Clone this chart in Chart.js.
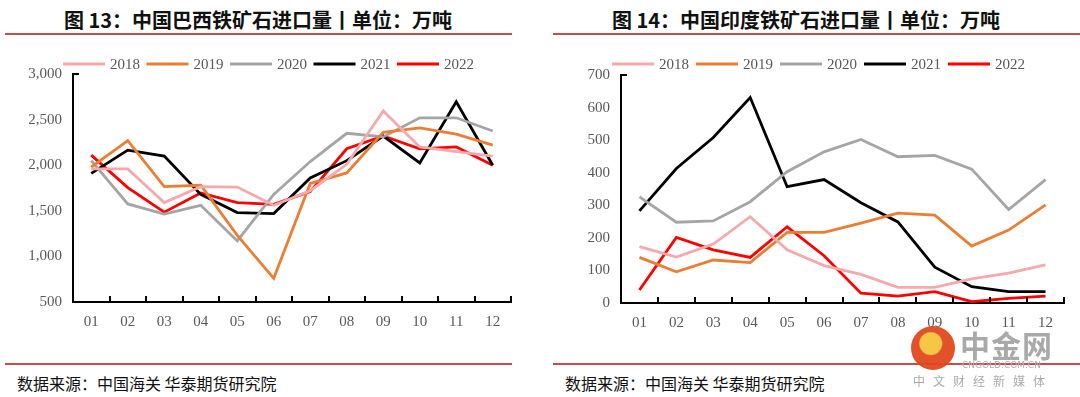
<!DOCTYPE html>
<html>
<head>
<meta charset="utf-8">
<script src="https://cdn.jsdelivr.net/npm/chart.js@4.4.1/dist/chart.umd.min.js"></script>
<style>
  html,body{margin:0;padding:0;background:#fff;}
  body{width:1080px;height:397px;position:relative;overflow:hidden;font-family:"Noto Sans CJK SC",sans-serif;}
  .title{position:absolute;top:5px;font-weight:bold;font-size:20px;color:#111;white-space:nowrap;transform:translateX(-50%);}
  .rule{position:absolute;height:2px;background:#c0504d;}
  .src{position:absolute;top:371px;font-size:16px;color:#111;white-space:nowrap;}
  .cv{position:absolute;top:0;width:540px;height:345px;}
  .logo{position:absolute;left:911px;top:326px;width:44px;height:44px;border-radius:50%;
        background:radial-gradient(circle at 45% 40%,#f5c33a 0 30%,#e0481f 34% 100%);opacity:.95;}
  .wm1{position:absolute;left:960px;top:322px;font-size:30px;font-weight:bold;color:#a9a9a9;letter-spacing:1px;}
  .wm2{position:absolute;left:962px;top:360px;font-size:9px;color:#b0b0b0;font-family:"DejaVu Sans",sans-serif;}
  .wm3{position:absolute;left:913px;top:372px;font-size:12px;color:#aaa;letter-spacing:8px;}
</style>
</head>
<body>
<div class="title" style="left:258px">图&nbsp;13：中国巴西铁矿石进口量丨单位：万吨</div>
<div class="title" style="left:806px">图&nbsp;14：中国印度铁矿石进口量丨单位：万吨</div>
<div class="rule" style="left:5px;width:507px;top:33px"></div>
<div class="rule" style="left:553px;width:527px;top:33px"></div>
<div class="rule" style="left:5px;width:507px;top:363px"></div>
<div class="rule" style="left:553px;width:527px;top:363px"></div>
<canvas id="c1" class="cv" style="left:0"></canvas>
<canvas id="c2" class="cv" style="left:540px"></canvas>
<div class="src" style="left:17px">数据来源：中国海关 华泰期货研究院</div>
<div class="src" style="left:565px">数据来源：中国海关 华泰期货研究院</div>
<div class="logo"></div>
<div class="wm1">中金网</div>
<div class="wm2">CNGOLD.COM.CN</div>
<div class="wm3">中文财经新媒体</div>
<script>
const months=['01','02','03','04','05','06','07','08','09','10','11','12'];
const years=['2018','2019','2020','2021','2022'];
const colors=['#f7a8ad','#ed7d31','#a5a5a5','#000000','#ff0000'];

// 图13 巴西
const br2018=[1960,1960,1590,1765,1760,1560,1720,2010,2595,2200,2150,2100];
const br2019=[1980,2270,1765,1780,1230,760,1800,1915,2360,2410,2340,2220];
const br2020=[2050,1575,1465,1560,1170,1680,2040,2350,2310,2520,2520,2375];
const br2021=[1910,2165,2100,1680,1480,1470,1860,2050,2320,2025,2695,2000];
const br2022=[2110,1755,1485,1695,1590,1570,1710,2180,2320,2180,2200,2000];

// 图14 印度
const in2018=[173,141,181,265,163,115,88,48,48,74,92,117];
const in2019=[140,96,132,124,217,217,245,276,270,175,224,301];
const in2020=[326,248,252,311,403,464,502,449,453,411,287,379];
const in2021=[283,413,508,631,357,379,308,249,110,50,35,35];
const in2022=[40,201,163,140,234,145,30,21,35,4,14,21];

const tickFont={family:'"Liberation Serif","Times New Roman",serif',size:15};

const deco={
  id:'deco',
  afterDraw(ch,args,o){
    const c=ch.ctx, x=ch.scales.x, y=ch.scales.y;
    c.save();
    c.strokeStyle='#000'; c.lineWidth=2;
    const n=months.length, w=(x.right-x.left)/n;
    for(let i=1;i<=n;i++){
      const px=Math.round(x.left+i*w);
      c.beginPath(); c.moveTo(px,x.top); c.lineTo(px,x.top-6); c.stroke();
    }
    c.beginPath(); c.moveTo(y.right,y.top); c.lineTo(y.right+6,y.top); c.stroke();
    // legend
    c.font='15px "Liberation Serif","Times New Roman",serif';
    c.textBaseline='middle'; c.textAlign='left';
    ch.data.datasets.forEach((d,i)=>{
      const lx=o.x+i*o.step;
      c.strokeStyle=d.borderColor; c.lineWidth=3;
      c.beginPath(); c.moveTo(lx,o.y); c.lineTo(lx+42,o.y); c.stroke();
      c.fillStyle='#595959';
      c.fillText(d.label,lx+47,o.y+1);
    });
    c.restore();
  }
};

function build(id,series,min,max,step,fmt,pad,yw,leg){
  new Chart(document.getElementById(id),{
    type:'line',
    data:{labels:months,datasets:series.map((s,i)=>({
      label:years[i],data:s,borderColor:colors[i],backgroundColor:colors[i],
      borderWidth:2.8,pointRadius:0,tension:0,fill:false
    }))},
    options:{
      responsive:false,animation:false,devicePixelRatio:1,
      layout:{padding:pad},
      plugins:{legend:{display:false},tooltip:{enabled:false},deco:leg},
      scales:{
        x:{offset:true,grid:{display:false,drawTicks:false},
           border:{display:true,color:'#000',width:2},
           ticks:{font:tickFont,color:'#595959',padding:11,maxRotation:0},
           afterFit:s=>{s.height=30;}},
        y:{min,max,grid:{display:false,drawTicks:false},
           border:{display:true,color:'#000',width:2},
           ticks:{stepSize:step,font:tickFont,color:'#595959',padding:11,callback:fmt},
           afterFit:s=>{s.width=yw;}}
      }
    },
    plugins:[deco]
  });
}

const c1=document.getElementById('c1'), c2=document.getElementById('c2');
[c1,c2].forEach(c=>{c.width=540;c.height=345;});

build('c1',[br2018,br2019,br2020,br2021,br2022],500,3000,500,
  v=>v.toLocaleString('en-US'),{left:0,right:29,top:74,bottom:13},73,{x:63,y:64,step:83.5});
build('c2',[in2018,in2019,in2020,in2021,in2022],0,700,100,
  v=>v,{left:0,right:16,top:75,bottom:12},81,{x:72,y:64,step:84});
</script>
</body>
</html>
